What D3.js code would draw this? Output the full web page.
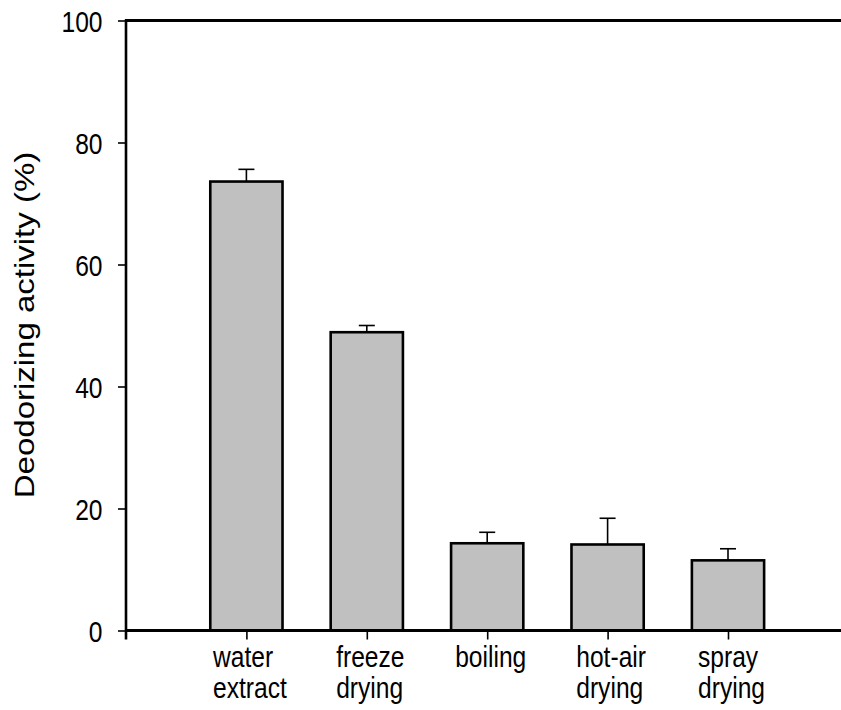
<!DOCTYPE html>
<html>
<head>
<meta charset="utf-8">
<script src="https://cdn.jsdelivr.net/npm/d3@7/dist/d3.min.js"></script>
<style>
  html, body { margin: 0; padding: 0; background: #fff; }
  svg { display: block; }
  text { font-family: "Liberation Sans", Arial, sans-serif; fill: #000; }
</style>
</head>
<body>
<svg id="chart" width="841" height="710"></svg>
<script>
// Deodorizing activity by preparation method (mean with upper error bar)
const categories = [["water", "extract"], ["freeze", "drying"], ["boiling"], ["hot-air", "drying"], ["spray", "drying"]];
const activity = [73.6, 48.9, 14.3, 14.1, 11.5];
const errors = [2.0, 1.1, 1.8, 4.3, 1.9];
const yTicks = [0, 20, 40, 60, 80, 100];

const W = 841, H = 710;
const SX = 0.82; // narrow lettering
const svg = d3.select("#chart");

const x = d3.scaleLinear().domain([0, 6]).range([126, 848.4]);
const y = d3.scaleLinear().domain([0, 100]).range([630.5, 20.5]);
const barW = x(0.6) - x(0);

// bars
svg.append("g").selectAll("rect")
  .data(activity)
  .join("rect")
  .attr("x", (d, i) => x(i + 1) - barW / 2)
  .attr("width", barW)
  .attr("y", d => y(d))
  .attr("height", d => y(0) - y(d))
  .attr("fill", "#c0c0c0")
  .attr("stroke", "#000")
  .attr("stroke-width", 2.6);

// upper error bars
const eb = svg.append("g").attr("stroke", "#000").attr("stroke-width", 1.6);
activity.forEach((d, i) => {
  const cx = x(i + 1);
  eb.append("line").attr("x1", cx).attr("x2", cx).attr("y1", y(d)).attr("y2", y(d + errors[i]));
  eb.append("line").attr("x1", cx - 8).attr("x2", cx + 8).attr("y1", y(d + errors[i])).attr("y2", y(d + errors[i]));
});

// y axis
const yAxis = svg.append("g")
  .attr("transform", `translate(${x(0)},0)`)
  .call(d3.axisLeft(y).tickValues(yTicks).tickSize(8).tickSizeOuter(0).tickFormat(d3.format("d")));
yAxis.select(".domain").remove();
yAxis.selectAll(".tick line").attr("stroke", "#000").attr("stroke-width", 1.6);
yAxis.selectAll(".tick text")
  .attr("x", 0).attr("dy", null)
  .attr("transform", `translate(-23.5,10.5) scale(${SX},1)`)
  .attr("text-anchor", "end")
  .style("font-size", "30px")
  .style("font-family", "'Liberation Sans', Arial, sans-serif");

// x axis ticks
const xAxis = svg.append("g")
  .attr("transform", `translate(0,${y(0)})`)
  .call(d3.axisBottom(x).tickValues([1, 2, 3, 4, 5]).tickSize(9).tickSizeOuter(0).tickFormat(""));
xAxis.select(".domain").remove();
xAxis.selectAll(".tick line").attr("stroke", "#000").attr("stroke-width", 1.6);

// axis lines and top frame
svg.append("line").attr("x1", x(0)).attr("x2", x(0)).attr("y1", y(100) - 1).attr("y2", y(0) + 9)
  .attr("stroke", "#000").attr("stroke-width", 2.6);
svg.append("line").attr("x1", x(0) - 1).attr("x2", W).attr("y1", y(0)).attr("y2", y(0))
  .attr("stroke", "#000").attr("stroke-width", 3.2);
svg.append("line").attr("x1", x(0) - 1).attr("x2", W).attr("y1", y(100)).attr("y2", y(100))
  .attr("stroke", "#000").attr("stroke-width", 3.2);

// category labels: left-aligned lines, block set just right of each tick
categories.forEach((lines, i) => {
  const g = svg.append("g").attr("transform", `translate(${x(i + 1) + 3.5},${y(0) + 36}) scale(${SX},1)`);
  const ts = lines.map((t, j) => g.append("text")
    .attr("y", j * 31.5)
    .style("font-size", "30px")
    .text(t));
  const maxW = d3.max(ts, t => t.node().getComputedTextLength());
  ts.forEach(t => t.attr("x", -maxW / 2));
});

// y axis title
svg.append("text")
  .attr("transform", `translate(33.5,325) scale(${SX},1) rotate(-90)`)
  .attr("text-anchor", "middle")
  .style("font-size", "33px")
  .text("Deodorizing activity (%)");
</script>
</body>
</html>
